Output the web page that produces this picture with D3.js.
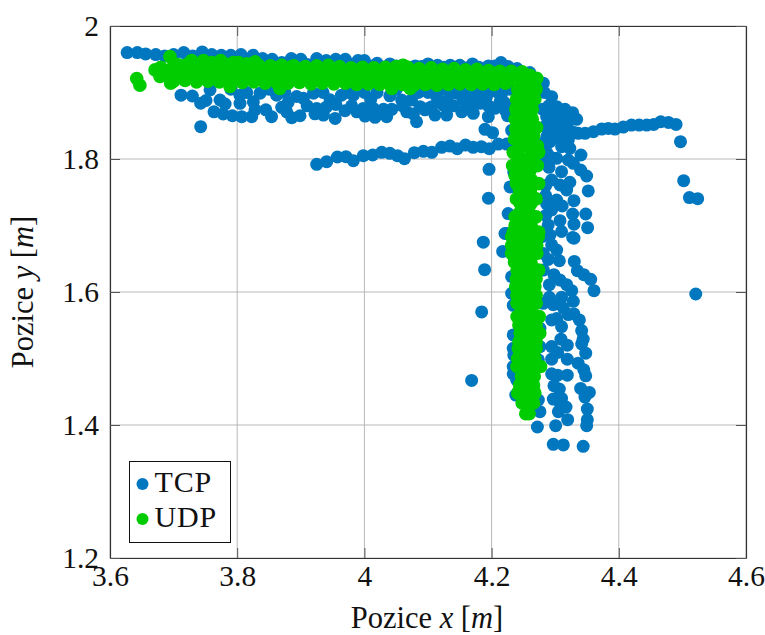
<!DOCTYPE html>
<html>
<head>
<meta charset="utf-8">
<script src="https://cdn.jsdelivr.net/npm/d3@7"></script>
<style>
    html, body { margin: 0; padding: 0; background: #fff; }
    text { font-family: "Liberation Serif", serif; fill: #111; }
</style>
</head>
<body>
<div id="plot"></div>
<script>
// points, [x, y] in metres
const tcpTopRow = [[3.627,1.96],[3.643,1.96],[3.656,1.958],[3.672,1.957],[3.686,1.955],[3.70,1.957],[3.716,1.96],[3.73,1.955],[3.745,1.961],[3.76,1.957],[3.775,1.956],[3.79,1.956],[3.806,1.957],[3.825,1.956],[3.84,1.951],[3.855,1.95],[3.885,1.951],[3.90,1.95],[3.925,1.951],[3.94,1.948],[3.955,1.95],[3.97,1.95],[3.99,1.948],[4.0,1.948],[4.02,1.944],[4.04,1.943],[4.06,1.941],[4.08,1.94],[4.10,1.943],[4.115,1.941],[4.135,1.941],[4.15,1.941],[4.17,1.943],[4.2147,1.945],[4.226,1.939],[4.24,1.936],[4.26,1.93]];
const tcpTopExtra = [[3.87,1.945],[3.91,1.942],[3.95,1.943],[3.98,1.942],[4.01,1.94],[4.03,1.938],[4.05,1.94],[4.07,1.938],[4.09,1.939],[4.125,1.938],[4.16,1.937],[4.18,1.938],[4.195,1.94],[4.205,1.94]];
const tcpLowerBand = [[3.7117,1.896],[3.7295,1.8947],[3.7426,1.884],[3.751,1.888],[3.7426,1.8486],[3.7635,1.871],[3.778,1.8677],[3.7924,1.865],[3.807,1.8636],[3.8228,1.8636],[3.854,1.8636],[3.845,1.874],[3.8857,1.862],[3.8988,1.865],[3.9223,1.868],[3.9355,1.866],[3.954,1.861],[3.9695,1.8727],[3.988,1.871],[4.001,1.8646],[4.0167,1.8626],[4.035,1.8636],[4.043,1.8747],[4.082,1.856],[4.0665,1.871],[4.077,1.8677],[4.0953,1.874],[3.7573,1.904],[3.773,1.8887],[3.781,1.8827],[3.8044,1.896],[3.8044,1.8837],[3.8254,1.886],[3.836,1.899],[3.828,1.874],[3.862,1.896],[3.87,1.8777],[3.8778,1.871],[3.8935,1.894],[3.904,1.8912],[3.92,1.899],[3.925,1.876],[3.946,1.889],[3.964,1.896],[3.9826,1.896],[3.9983,1.876],[4.014,1.876],[4.03,1.8747],[4.0586,1.8887],[4.074,1.8887],[4.0875,1.8787],[4.1,1.876],[4.111,1.866],[4.1293,1.866],[4.153,1.871],[4.1712,1.8687],[4.1948,1.8637],[4.124,1.881],[4.145,1.899],[4.166,1.8787],[4.1817,1.8837],[4.208,1.9012],[4.2132,1.886],[4.221,1.8737],[4.205,1.8762],[4.1057,1.8787],[4.1136,1.8937],[4.1345,1.899],[4.1555,1.8887],[4.1765,1.899],[4.192,1.8937]];
const tcpBandExtra = [[3.79,1.905],[3.815,1.9],[3.85,1.905],[3.875,1.9],[3.88,1.885],[3.91,1.88],[3.935,1.9],[3.94,1.878],[3.955,1.882],[3.975,1.9],[3.98,1.88],[4.0,1.9],[4.01,1.89],[4.02,1.9],[4.04,1.895],[4.05,1.905],[4.06,1.88],[4.085,1.9],[4.1,1.9],[4.12,1.905],[4.13,1.888],[4.14,1.88],[4.15,1.905],[4.16,1.895],[4.17,1.885],[4.185,1.9],[4.195,1.88],[4.2,1.905],[4.215,1.895],[4.22,1.885],[4.228,1.905],[4.228,1.88],[4.225,1.865]];
const tcpMiddleRow = [[3.925,1.792],[3.9407,1.796],[3.9575,1.803],[3.971,1.8035],[3.9826,1.7975],[3.9983,1.805],[4.013,1.806],[4.0272,1.81],[4.04,1.8085],[4.052,1.805],[4.063,1.8005],[4.0785,1.8095],[4.0927,1.8115],[4.106,1.81],[4.1214,1.8175],[4.1345,1.8195],[4.146,1.8155],[4.159,1.821],[4.171,1.8175],[4.184,1.8185],[4.1964,1.8155],[4.2105,1.8225],[4.2236,1.8225]];
const tcpTail = [[4.3363,1.8386],[4.347,1.8386],[4.36,1.841],[4.373,1.845],[4.3835,1.846],[4.394,1.845],[4.407,1.848],[4.42,1.851],[4.432,1.851],[4.444,1.851],[4.455,1.852],[4.466,1.856],[4.478,1.855],[4.49,1.852],[4.497,1.826],[4.502,1.7674],[4.511,1.742],[4.524,1.7404],[4.521,1.597]];
const tcpFanUpper = [[4.2813,1.914],[4.2944,1.8937],[4.3154,1.8747],[4.3274,1.8697],[4.3337,1.8597],[4.3206,1.856],[4.3023,1.8787],[4.297,1.8687],[4.2865,1.8637],[4.305,1.8586],[4.2996,1.8436],[4.3127,1.851],[4.3232,1.8386],[4.3075,1.8286],[4.2918,1.826],[4.3206,1.8286],[4.3101,1.8185],[4.284,1.849],[4.287,1.834],[4.2865,1.81],[4.3405,1.806],[4.323,1.816],[4.2902,1.7875],[4.31,1.781],[4.3494,1.7744],[4.34,1.7835],[4.3285,1.7935],[4.3206,1.7985],[4.3023,1.801],[4.2918,1.8035],[4.323,1.765],[4.2944,1.7684],[4.3075,1.761],[4.318,1.7534],[4.3295,1.7373],[4.352,1.752],[4.2865,1.7323],[4.2944,1.7233],[4.3023,1.7383],[4.311,1.7293],[4.3274,1.7173],[4.348,1.7173],[4.3075,1.7073],[4.3295,1.702],[4.351,1.6967],[4.289,1.7008],[4.31,1.691],[4.3274,1.682],[4.2918,1.6857]];
const tcpFanExtra = [[4.283,1.9],[4.29,1.88],[4.28,1.875],[4.295,1.86],[4.29,1.845],[4.30,1.835],[4.31,1.84],[4.32,1.845],[4.33,1.84],[4.315,1.865],[4.305,1.87],[4.283,1.825],[4.283,1.795],[4.285,1.76],[4.285,1.745],[4.285,1.715]];
const tcpFanLower = [[4.3295,1.681],[4.2944,1.671],[4.3023,1.663],[4.2892,1.649],[4.3065,1.647],[4.33,1.646],[4.3348,1.632],[4.345,1.626],[4.3558,1.619],[4.361,1.602],[4.2908,1.611],[4.298,1.626],[4.3075,1.618],[4.318,1.611],[4.326,1.602],[4.31,1.592],[4.3285,1.586],[4.2908,1.592],[4.297,1.581],[4.3128,1.576],[4.3206,1.566],[4.3295,1.567],[4.338,1.558],[4.3416,1.542],[4.344,1.529],[4.3416,1.522],[4.348,1.508],[4.3023,1.56],[4.2944,1.558],[4.31,1.548],[4.309,1.529],[4.319,1.52],[4.2944,1.518],[4.3039,1.509],[4.2944,1.499],[4.319,1.499],[4.336,1.493],[4.345,1.483],[4.348,1.474],[4.2944,1.477],[4.3039,1.475],[4.319,1.475],[4.298,1.459],[4.3065,1.454],[4.34,1.455],[4.3537,1.449],[4.3468,1.442],[4.297,1.439],[4.31,1.44],[4.3075,1.433],[4.317,1.427],[4.3505,1.424],[4.305,1.42],[4.3196,1.408],[4.3505,1.408],[4.3495,1.399],[4.3007,1.399],[4.272,1.397],[4.297,1.371],[4.3128,1.37],[4.344,1.368]];
const tcpStalk = [[4.2315,1.623],[4.2315,1.598],[4.234,1.58],[4.234,1.5354],[4.234,1.5153],[4.235,1.505],[4.234,1.488],[4.234,1.477],[4.2394,1.468],[4.238,1.445],[4.276,1.5454],[4.276,1.518],[4.2735,1.4376],[4.276,1.42],[4.2735,1.498],[4.279,1.6833],[4.2813,1.658],[4.2813,1.633],[4.2813,1.583],[4.2315,1.843],[4.226,1.718],[4.2236,1.688],[4.229,1.758],[4.235,1.78],[4.236,1.65],[4.25,1.55]];
const tcpOutliers = [[4.196,1.7845],[4.195,1.741],[4.1896,1.8446],[4.2016,1.8396],[4.187,1.675],[4.189,1.6336],[4.1844,1.57],[4.1686,1.467],[4.221,1.688],[4.2174,1.661]];

const udpOutliers = [[3.642,1.921],[3.647,1.911]];
const udpBumps = [[3.6943,1.954],[3.7284,1.948],[3.747,1.948],[3.774,1.948],[3.794,1.945],[3.802,1.945],[3.828,1.946],[3.8857,1.939],[3.9433,1.941],[4.061,1.941],[3.6708,1.934],[3.6786,1.924],[3.6954,1.914],[3.7887,1.909],[3.867,1.906],[4.043,1.906],[4.072,1.906],[4.2603,1.926],[4.271,1.9213]];
const udpRowUpper = [[3.706,1.942],[3.724,1.944],[3.742,1.943],[3.76,1.945],[3.779,1.944],[3.797,1.942],[3.815,1.943],[3.834,1.941],[3.852,1.94],[3.87,1.941],[3.889,1.94],[3.907,1.939],[3.925,1.94],[3.943,1.938],[3.961,1.939],[3.979,1.937],[3.997,1.938],[4.015,1.937],[4.033,1.938],[4.05,1.939],[4.068,1.938],[4.086,1.936],[4.105,1.937],[4.123,1.935],[4.141,1.936],[4.159,1.934],[4.177,1.935],[4.195,1.933],[4.213,1.932],[4.231,1.932],[4.248,1.931]];
const udpRowTop = [[3.68,1.938],[3.697,1.936],[3.715,1.94],[3.733,1.937],[3.75,1.939],[3.768,1.936],[3.786,1.938],[3.805,1.937],[3.822,1.936],[3.84,1.935],[3.858,1.937],[3.876,1.934],[3.894,1.936],[3.912,1.935],[3.93,1.933],[3.948,1.935],[3.966,1.932],[3.984,1.934],[4.002,1.932],[4.02,1.933],[4.038,1.931],[4.056,1.935],[4.074,1.933],[4.092,1.931],[4.11,1.932],[4.128,1.93],[4.146,1.931],[4.164,1.93],[4.182,1.928],[4.2,1.93],[4.218,1.928],[4.236,1.927],[4.25,1.928]];
const udpRowMiddle = [[3.689,1.926],[3.707,1.927],[3.725,1.925],[3.743,1.926],[3.76,1.928],[3.778,1.925],[3.796,1.927],[3.814,1.926],[3.832,1.924],[3.85,1.925],[3.868,1.923],[3.886,1.925],[3.904,1.924],[3.922,1.925],[3.94,1.923],[3.958,1.924],[3.976,1.925],[3.994,1.922],[4.012,1.924],[4.03,1.922],[4.048,1.923],[4.066,1.924],[4.084,1.922],[4.102,1.923],[4.12,1.921],[4.138,1.922],[4.156,1.921],[4.174,1.92],[4.192,1.921],[4.21,1.92],[4.228,1.92],[4.246,1.92],[4.262,1.917]];
const udpRowBottom = [[3.7,1.917],[3.718,1.918],[3.736,1.916],[3.754,1.917],[3.772,1.916],[3.79,1.917],[3.808,1.915],[3.826,1.916],[3.844,1.914],[3.862,1.915],[3.88,1.914],[3.898,1.915],[3.916,1.913],[3.934,1.914],[3.952,1.913],[3.97,1.914],[3.988,1.912],[4.006,1.913],[4.024,1.912],[4.042,1.913],[4.06,1.912],[4.078,1.911],[4.096,1.912],[4.114,1.911],[4.132,1.912],[4.15,1.913],[4.168,1.912],[4.186,1.913],[4.204,1.912],[4.222,1.914]];
const udpColumnLeft = [[4.241,1.905],[4.239,1.89],[4.238,1.875],[4.237,1.86],[4.238,1.845],[4.236,1.83],[4.234,1.81],[4.233,1.79],[4.237,1.775],[4.239,1.763],[4.239,1.74],[4.237,1.713],[4.237,1.70],[4.234,1.69],[4.2315,1.683],[4.2315,1.67],[4.2315,1.658],[4.236,1.645],[4.24,1.633],[4.239,1.62],[4.238,1.608],[4.24,1.595],[4.24,1.583],[4.24,1.563],[4.243,1.55],[4.245,1.538],[4.243,1.525],[4.242,1.515],[4.241,1.50],[4.24,1.488],[4.247,1.473],[4.244,1.46],[4.241,1.448],[4.248,1.433],[4.2537,1.417]];
const udpColumnInnerLeft = [[4.245,1.898],[4.244,1.884],[4.243,1.868],[4.245,1.852],[4.243,1.838],[4.244,1.824],[4.242,1.806],[4.243,1.796],[4.244,1.78],[4.245,1.768],[4.244,1.752],[4.245,1.733],[4.243,1.718],[4.243,1.705],[4.241,1.688],[4.24,1.676],[4.241,1.662],[4.243,1.648],[4.245,1.628],[4.244,1.614],[4.245,1.602],[4.246,1.588],[4.246,1.57],[4.247,1.556],[4.25,1.542],[4.25,1.528],[4.249,1.51],[4.248,1.494],[4.248,1.48],[4.25,1.466],[4.249,1.452],[4.25,1.44]];
const udpColumnMiddle = [[4.252,1.908],[4.254,1.893],[4.25,1.88],[4.252,1.865],[4.25,1.85],[4.253,1.835],[4.25,1.82],[4.252,1.80],[4.25,1.785],[4.253,1.77],[4.25,1.755],[4.253,1.74],[4.25,1.725],[4.252,1.71],[4.25,1.695],[4.25,1.68],[4.248,1.665],[4.252,1.65],[4.25,1.635],[4.253,1.62],[4.25,1.605],[4.252,1.59],[4.254,1.575],[4.255,1.56],[4.256,1.545],[4.258,1.53],[4.255,1.515],[4.257,1.50],[4.256,1.485],[4.258,1.47],[4.255,1.455],[4.257,1.44],[4.256,1.428]];
const udpColumnInnerRight = [[4.261,1.9],[4.26,1.885],[4.258,1.87],[4.259,1.855],[4.26,1.842],[4.26,1.828],[4.262,1.815],[4.262,1.797],[4.26,1.782],[4.263,1.768],[4.261,1.75],[4.262,1.733],[4.26,1.718],[4.257,1.703],[4.262,1.692],[4.262,1.676],[4.26,1.662],[4.262,1.643],[4.262,1.627],[4.26,1.612],[4.261,1.6],[4.262,1.586],[4.264,1.57],[4.263,1.555],[4.265,1.54],[4.264,1.52],[4.263,1.508],[4.264,1.492],[4.266,1.48],[4.262,1.465],[4.262,1.45],[4.261,1.437]];
const udpColumnRight = [[4.27,1.905],[4.268,1.89],[4.264,1.875],[4.264,1.86],[4.2708,1.8476],[4.266,1.835],[4.272,1.82],[4.274,1.81],[4.272,1.79],[4.274,1.763],[4.27,1.74],[4.27,1.713],[4.262,1.70],[4.274,1.69],[4.2735,1.683],[4.271,1.67],[4.271,1.658],[4.274,1.633],[4.27,1.62],[4.268,1.608],[4.27,1.595],[4.27,1.583],[4.275,1.563],[4.27,1.55],[4.2757,1.538],[4.27,1.525],[4.27,1.515],[4.268,1.50],[4.277,1.488],[4.267,1.473],[4.266,1.46],[4.268,1.448],[4.266,1.433],[4.259,1.417]];

const tcpPoints = [...tcpTopRow, ...tcpTopExtra, ...tcpLowerBand, ...tcpBandExtra, ...tcpMiddleRow, ...tcpTail, ...tcpFanUpper, ...tcpFanExtra, ...tcpFanLower, ...tcpStalk, ...tcpOutliers];
const udpPoints = [...udpOutliers, ...udpBumps, ...udpRowUpper, ...udpRowTop, ...udpRowMiddle, ...udpRowBottom, ...udpColumnLeft, ...udpColumnInnerLeft, ...udpColumnMiddle, ...udpColumnInnerRight, ...udpColumnRight];

const xTicks = [3.6, 3.8, 4, 4.2, 4.4, 4.6];
const yTicks = [1.2, 1.4, 1.6, 1.8, 2];
const legendNames = ['TCP', 'UDP'];
const seriesColors = ['#0077bf', '#00cc00'];

const totalWidth = 765, totalHeight = 635;
const margin = { top: 26, right: 19, bottom: 77, left: 110 };
const width = totalWidth - margin.left - margin.right;
const height = totalHeight - margin.top - margin.bottom;

const svg = d3.select('#plot').append('svg')
    .attr('width', totalWidth)
    .attr('height', totalHeight)
    .style('display', 'block');

const g = svg.append('g')
    .attr('transform', `translate(${margin.left},${margin.top})`);

const xScale = d3.scaleLinear().domain([3.6, 4.6]).range([0, width]);
const yScale = d3.scaleLinear().domain([1.2, 2]).range([height, 0]);

// grid first so the points sit on top
g.append('g').selectAll('line').data(xTicks).enter().append('line')
    .attr('x1', d => xScale(d)).attr('x2', d => xScale(d))
    .attr('y1', 0).attr('y2', height)
    .attr('stroke', '#b8b8b8').attr('stroke-width', 1);
g.append('g').selectAll('line').data(yTicks).enter().append('line')
    .attr('x1', 0).attr('x2', width)
    .attr('y1', d => yScale(d)).attr('y2', d => yScale(d))
    .attr('stroke', '#b8b8b8').attr('stroke-width', 1);

function styleAxis(sel) {
    sel.select('.domain').attr('stroke', '#333').attr('stroke-width', 1.2);
    sel.selectAll('.tick line').attr('stroke', '#555').attr('stroke-width', 1);
    sel.selectAll('text').style('font-size', '29.5px').style('font-family', '"Liberation Serif", serif').attr('fill', '#111');
}

// ticks point inwards on all four sides
g.append('g').attr('transform', `translate(0,${height})`)
    .call(d3.axisBottom(xScale).tickValues(xTicks).tickFormat(d3.format('~g')).tickSizeInner(-10).tickSizeOuter(0).tickPadding(7))
    .call(styleAxis);
g.append('g')
    .call(d3.axisTop(xScale).tickValues(xTicks).tickFormat('').tickSizeInner(-10).tickSizeOuter(0))
    .call(styleAxis);
g.append('g')
    .call(d3.axisLeft(yScale).tickValues(yTicks).tickFormat(d3.format('~g')).tickSizeInner(-10).tickSizeOuter(0).tickPadding(11))
    .call(styleAxis);
g.append('g').attr('transform', `translate(${width},0)`)
    .call(d3.axisRight(yScale).tickValues(yTicks).tickFormat('').tickSizeInner(-10).tickSizeOuter(0))
    .call(styleAxis);

g.append('g').selectAll('circle').data(tcpPoints).enter().append('circle')
    .attr('cx', d => xScale(d[0]))
    .attr('cy', d => yScale(d[1]))
    .attr('r', 6.5)
    .attr('fill', seriesColors[0]);

g.append('g').selectAll('circle').data(udpPoints).enter().append('circle')
    .attr('cx', d => xScale(d[0]))
    .attr('cy', d => yScale(d[1]))
    .attr('r', 6.8)
    .attr('fill', seriesColors[1]);

// legend
const legend = svg.append('g').attr('transform', 'translate(129.5,461.5)');
legend.append('rect')
    .attr('width', 101).attr('height', 81)
    .attr('fill', '#fff').attr('stroke', '#111').attr('stroke-width', 1);
legendNames.forEach((name, i) => {
    legend.append('circle')
        .attr('cx', 13).attr('cy', 22.5 + i * 35)
        .attr('r', 6).attr('fill', seriesColors[i]);
    legend.append('text')
        .attr('x', 25).attr('y', 30.5 + i * 35)
        .style('font-size', '30px')
        .style('letter-spacing', '0.8px')
        .text(name);
});

// axis labels with the italic variable
function axisLabel(sel, symbol) {
    sel.style('font-size', '30.5px').attr('text-anchor', 'middle');
    sel.append('tspan').text('Pozice ');
    sel.append('tspan').style('font-style', 'italic').text(symbol);
    sel.append('tspan').text(' [');
    sel.append('tspan').style('font-style', 'italic').text('m');
    sel.append('tspan').text(']');
}

svg.append('text')
    .attr('x', 427).attr('y', 628)
    .call(axisLabel, 'x');

svg.append('text')
    .attr('transform', 'translate(33,292) rotate(-90)')
    .call(axisLabel, 'y');
</script>
</body>
</html>
